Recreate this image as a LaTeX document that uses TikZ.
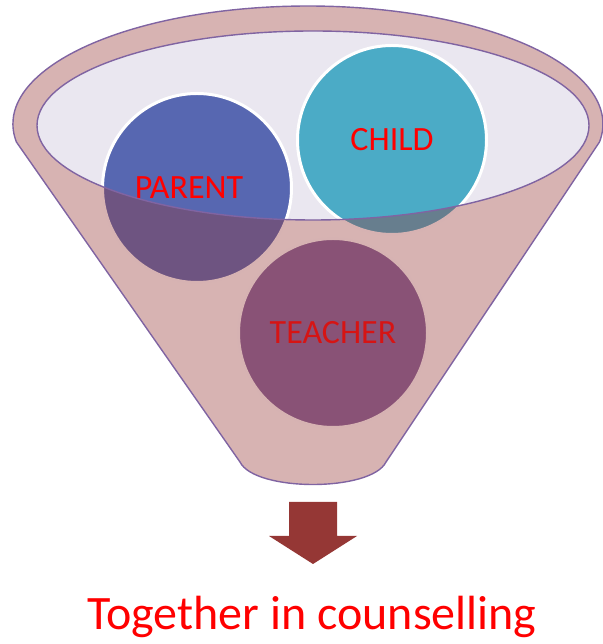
\documentclass[tikz,border=0pt]{standalone}
\usepackage{fontspec}
\setmainfont{Carlito}
\usetikzlibrary{positioning,calc}
\definecolor{rimcol}{HTML}{8064A2}
\definecolor{mouthcol}{HTML}{EAE7F0}
\definecolor{brick}{HTML}{953735}
\definecolor{parcol}{HTML}{5767B1}
\definecolor{chicol}{HTML}{4BABC6}
\definecolor{teacol}{HTML}{82649E}

\begin{document}
\begin{tikzpicture}[x=1pt,y=1pt,
			ball/.style = {circle, draw=white, line width=3pt, minimum size=189pt, inner sep=0pt},
			word/.style = {text=red, font=\fontsize{34}{40}\selectfont},
			rim/.style = {draw=rimcol, line width=1.4pt},
			]
		\useasboundingbox (0,0) rectangle (602,644);
		% funnel body and its mouth
		\def\funnel{(16.4,502) arc[start angle=188.77, end angle=-8.77, x radius=295, y radius=118]
			-- (386,182) .. controls (371,152) and (255,152) .. (240,182) -- cycle}
		\def\mouth{(313,518.5) ellipse[x radius=276, y radius=94.5]}
		
					\fill[mouthcol] \mouth;
					
					\node[ball, fill=parcol] (parent) at (197,456) {};
					\node[ball, fill=chicol] (child) at (392,504) {};
					\node[ball, fill=teacol] (teacher) at (333,311) {};
					\node[word] (parentlbl) at ([xshift=-8pt]parent.center) {PARENT};
					\node[word] (childlbl) at (child.center) {CHILD};
					\node[word] (teacherlbl) at (teacher.center) {TEACHER};
					
					\fill[brick, fill opacity=0.38, even odd rule] \funnel \mouth; % <--- front of funnel
					\draw[rim] \funnel;
					\draw[rim] \mouth;
					
					% arrow and result
					\fill[brick] (289,142) -- (337,142) -- (337,108) -- (357,108)
						-- (313,80) -- (269,108) -- (289,108) -- cycle;
					\node[text=red, font=\fontsize{48}{56}\selectfont, anchor=base] (result) at (312,14) {Together in counselling};
					
		\end{tikzpicture}
\end{document}
